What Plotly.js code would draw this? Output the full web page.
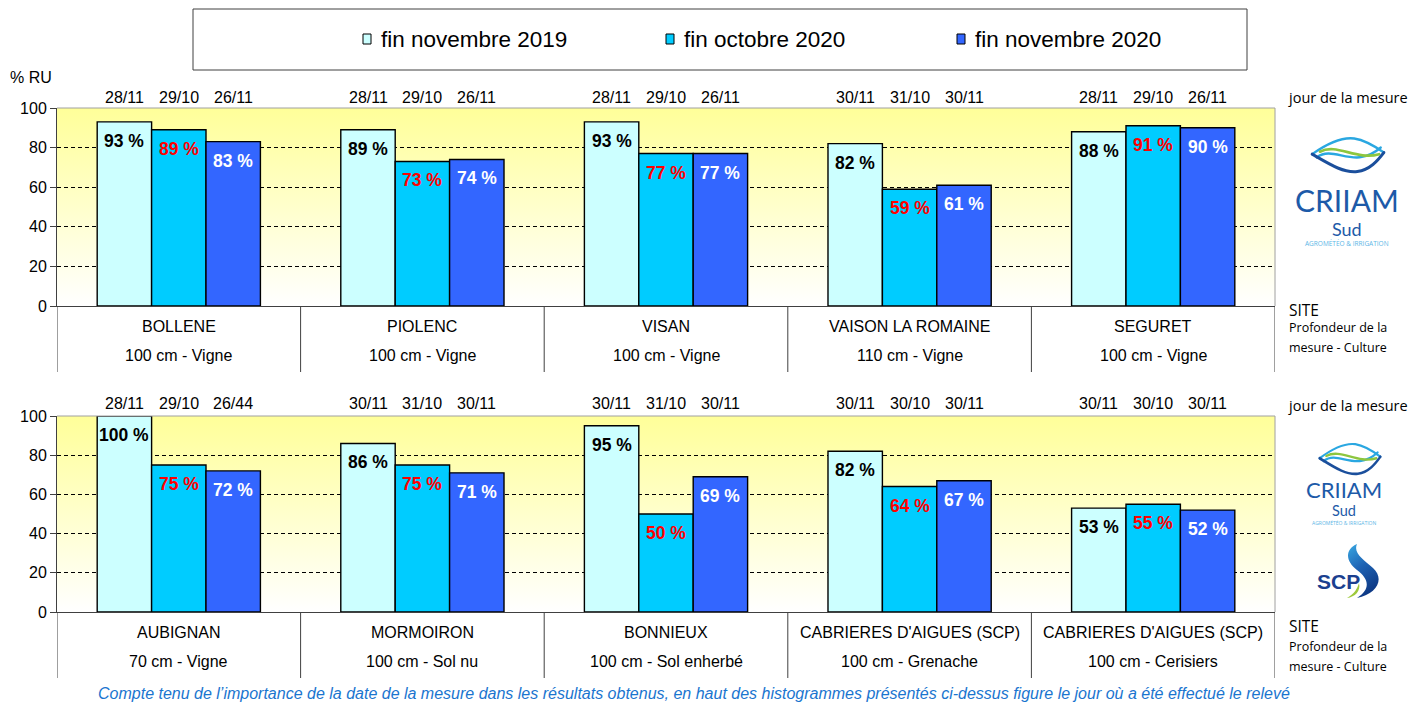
<!DOCTYPE html>
<html>
<head>
<meta charset="utf-8">
<script src="https://cdn.plot.ly/plotly-3.0.1.min.js"></script>
<style>html,body{margin:0;padding:0;background:#fff;}#chart{width:1413px;height:704px;}</style>
</head>
<body>
<div id="chart"></div>
<script>
// ---------- DATA ----------
const seriesNames = ['fin novembre 2019', 'fin octobre 2020', 'fin novembre 2020'];

const topSites  = ['BOLLENE', 'PIOLENC', 'VISAN', 'VAISON LA ROMAINE', 'SEGURET'];
const topDepths = ['100 cm - Vigne', '100 cm - Vigne', '100 cm - Vigne', '110 cm - Vigne', '100 cm - Vigne'];
const topNov2019 = [93, 89, 93, 82, 88];
const topOct2020 = [89, 73, 77, 59, 91];
const topNov2020 = [83, 74, 77, 61, 90];
const topDatesNov2019 = ['28/11', '28/11', '28/11', '30/11', '28/11'];
const topDatesOct2020 = ['29/10', '29/10', '29/10', '31/10', '29/10'];
const topDatesNov2020 = ['26/11', '26/11', '26/11', '30/11', '26/11'];

const botSites  = ['AUBIGNAN', 'MORMOIRON', 'BONNIEUX', "CABRIERES D'AIGUES (SCP)", "CABRIERES D'AIGUES (SCP)"];
const botDepths = ['70 cm - Vigne', '100 cm - Sol nu', '100 cm - Sol enherbé', '100 cm - Grenache', '100 cm - Cerisiers'];
const botNov2019 = [100, 86, 95, 82, 53];
const botOct2020 = [75, 75, 50, 64, 55];
const botNov2020 = [72, 71, 69, 67, 52];
const botDatesNov2019 = ['28/11', '30/11', '30/11', '30/11', '30/11'];
const botDatesOct2020 = ['29/10', '31/10', '31/10', '30/10', '30/10'];
const botDatesNov2020 = ['26/44', '30/11', '30/11', '30/11', '30/11'];

const yTicks = [0, 20, 40, 60, 80, 100];

// ---------- STYLE ----------
const W = 1413, H = 704;
const px = x => x / W;
const py = y => 1 - y / H;
const barColors = ['#CCFFFF', '#00CCFF', '#3366FF'];
const labelColors = ['#000000', '#FF0000', '#FFFFFF'];
const FONT = 'Liberation Sans, Arial, sans-serif';
const CAL = 'Open Sans, Noto Sans, sans-serif';
const LOGO = 'Lato, Open Sans, sans-serif';
const BARGAP = 0.33;
const barW = (1 - BARGAP) / 3;
const offs = [-barW, 0, barW];

const panels = [
  {xa: 'x', ya: 'y', sites: topSites, depths: topDepths,
   vals: [topNov2019, topOct2020, topNov2020],
   dates: [topDatesNov2019, topDatesOct2020, topDatesNov2020],
   top: 108, bottom: 306, dateShift: 11, sideY: [310, 328, 347]},
  {xa: 'x2', ya: 'y2', sites: botSites, depths: botDepths,
   vals: [botNov2019, botOct2020, botNov2020],
   dates: [botDatesNov2019, botDatesOct2020, botDatesNov2020],
   top: 416, bottom: 612, dateShift: 13, sideY: [626, 646, 666]}
];

const data = [];
const annotations = [];
const shapes = [];
const images = [];

const xLeft = 57, xRight = 1275;

panels.forEach(p => {
  p.vals.forEach((vals, s) => {
    data.push({
      type: 'bar', name: seriesNames[s],
      x: vals.map((v, i) => i), y: vals,
      xaxis: p.xa, yaxis: p.ya,
      marker: {color: barColors[s], line: {color: '#000', width: 1.4}},
      showlegend: false, hoverinfo: 'skip'
    });
    vals.forEach((v, i) => {
      annotations.push({
        xref: p.xa, yref: p.ya, x: i + offs[s], y: v, yshift: -19,
        text: v + ' %', showarrow: false, yanchor: 'middle',
        font: {family: FONT, size: 17.5, color: labelColors[s], weight: 'bold'}
      });
      annotations.push({
        xref: p.xa, yref: p.ya, x: i + offs[s], y: 100, yshift: p.dateShift,
        text: p.dates[s][i], showarrow: false, yanchor: 'middle',
        font: {family: FONT, size: 16, color: '#000'}
      });
    });
  });
  p.sites.forEach((name, i) => {
    annotations.push({xref: p.xa, yref: p.ya, x: i, y: 0, yshift: -20, text: name,
      showarrow: false, yanchor: 'middle', font: {family: FONT, size: 16, color: '#000'}});
    annotations.push({xref: p.xa, yref: p.ya, x: i, y: 0, yshift: -49, text: p.depths[i],
      showarrow: false, yanchor: 'middle', font: {family: FONT, size: 16, color: '#000'}});
  });
  for (let k = 0; k <= p.sites.length; k++) {
    shapes.push({type: 'line', xref: p.xa, yref: 'paper', x0: k - 0.5, x1: k - 0.5,
      y0: py(p.bottom), y1: py(p.bottom + 66), line: {color: '#404040', width: 1}});
  }
  // plot area border top/right
  shapes.push({type: 'line', xref: 'paper', yref: 'paper', x0: px(xLeft), x1: px(xRight),
    y0: py(p.top), y1: py(p.top), line: {color: '#A0A0A0', width: 1}, layer: 'above'});
  shapes.push({type: 'line', xref: 'paper', yref: 'paper', x0: px(xRight), x1: px(xRight),
    y0: py(p.top), y1: py(p.bottom), line: {color: '#A0A0A0', width: 1}, layer: 'above'});
  // gradient background
  const grad = '<svg xmlns="http://www.w3.org/2000/svg" width="100" height="100" preserveAspectRatio="none" viewBox="0 0 100 100"><defs><linearGradient id="g" x1="0" y1="0" x2="0" y2="1"><stop offset="0" stop-color="#FFFF99"/><stop offset="1" stop-color="#FFFFFF"/></linearGradient></defs><rect width="100" height="100" fill="url(#g)"/></svg>';
  images.push({source: 'data:image/svg+xml;charset=utf-8,' + encodeURIComponent(grad),
    xref: 'paper', yref: 'paper', x: px(xLeft), y: py(p.top),
    sizex: px(xRight) - px(xLeft), sizey: (p.bottom - p.top) / H,
    sizing: 'stretch', xanchor: 'left', yanchor: 'top', layer: 'below'});
  // right side labels
  annotations.push({xref: 'paper', yref: 'paper', x: px(1348), y: py(p.top - 11),
    text: 'jour de la mesure', showarrow: false, xanchor: 'center', yanchor: 'middle',
    font: {family: CAL, size: 14.5, color: '#000'}});
  annotations.push({xref: 'paper', yref: 'paper', x: px(1287), y: py(p.sideY[0]),
    text: 'SITE', showarrow: false, xanchor: 'left', yanchor: 'middle',
    font: {family: CAL, size: 15.5, color: '#000'}});
  annotations.push({xref: 'paper', yref: 'paper', x: px(1287), y: py(p.sideY[1]),
    text: 'Profondeur de la', showarrow: false, xanchor: 'left', yanchor: 'middle',
    font: {family: CAL, size: 12.5, color: '#000'}});
  annotations.push({xref: 'paper', yref: 'paper', x: px(1287), y: py(p.sideY[2]),
    text: 'mesure - Culture', showarrow: false, xanchor: 'left', yanchor: 'middle',
    font: {family: CAL, size: 12.5, color: '#000'}});
});

// "% RU"
annotations.push({xref: 'paper', yref: 'paper', x: px(31), y: py(77), text: '% RU',
  showarrow: false, xanchor: 'center', yanchor: 'middle', font: {family: FONT, size: 16, color: '#000'}});

// legend (manual)
shapes.push({type: 'rect', xref: 'paper', yref: 'paper', x0: px(193), x1: px(1247), y0: py(70), y1: py(9),
  line: {color: '#404040', width: 1}, fillcolor: '#FFFFFF'});
const legX = [363, 666, 957];
seriesNames.forEach((n, s) => {
  shapes.push({type: 'rect', xref: 'paper', yref: 'paper', x0: px(legX[s]), x1: px(legX[s] + 8),
    y0: py(44), y1: py(34), fillcolor: barColors[s], line: {color: '#000', width: 1}});
  annotations.push({xref: 'paper', yref: 'paper', x: px(legX[s] + 16), y: py(39), text: n,
    showarrow: false, xanchor: 'left', yanchor: 'middle', font: {family: FONT, size: 22.5, color: '#000'}});
});

// footnote
annotations.push({xref: 'paper', yref: 'paper', x: px(694), y: py(693),
  text: 'Compte tenu de l’importance de la date de la mesure dans les résultats obtenus, en haut des histogrammes présentés ci-dessus figure le jour où a été effectué le relevé',
  showarrow: false, xanchor: 'center', yanchor: 'middle',
  font: {family: FONT, size: 16, color: '#1A75CF', style: 'italic'}});

// logos
const waves = '<svg xmlns="http://www.w3.org/2000/svg" viewBox="0 0 100 46" preserveAspectRatio="none">' +
  '<g fill="none" stroke-linecap="round">' +
  '<path d="M4,22 C25,8 42,1 58,3 C72,5 84,12 96,20" stroke="#2AA7E1" stroke-width="3"/>' +
  '<path d="M10,26 C32,10 58,42 92,14" stroke="#2AA7E1" stroke-width="3"/>' +
  '<path d="M14,19 C36,8 60,30 90,22" stroke="#8DC63F" stroke-width="3.2"/>' +
  '<path d="M4,22 C26,34 44,45 62,43 C78,41 88,30 96,20" stroke="#1B4F9C" stroke-width="3.6"/>' +
  '</g></svg>';
const wavesSrc = 'data:image/svg+xml;charset=utf-8,' + encodeURIComponent(waves);
images.push({source: wavesSrc, xref: 'paper', yref: 'paper', x: px(1309), y: py(136),
  sizex: 78 / W, sizey: 38 / H, sizing: 'stretch', xanchor: 'left', yanchor: 'top', layer: 'above'});
images.push({source: wavesSrc, xref: 'paper', yref: 'paper', x: px(1317), y: py(442),
  sizex: 66 / W, sizey: 34 / H, sizing: 'stretch', xanchor: 'left', yanchor: 'top', layer: 'above'});

const scp = '<svg xmlns="http://www.w3.org/2000/svg" viewBox="0 0 45 56" preserveAspectRatio="none">' +
  '<defs><linearGradient id="s" x1="0" y1="0" x2="0.4" y2="1"><stop offset="0" stop-color="#39A9E3"/><stop offset="0.5" stop-color="#1E63B4"/><stop offset="1" stop-color="#0E3A86"/></linearGradient></defs>' +
  '<path d="M20,1 C8,6 8,18 20,27 C32,36 34,46 20,55 C40,51 48,36 36,25 C26,16 16,10 20,1 Z" fill="url(#s)"/>' +
  '<path d="M22,40 C24,48 18,54 10,55 C18,50 20,46 22,40 Z" fill="#9DC93B"/>' +
  '</svg>';
images.push({source: 'data:image/svg+xml;charset=utf-8,' + encodeURIComponent(scp), xref: 'paper', yref: 'paper',
  x: px(1337), y: py(543), sizex: 45 / W, sizey: 56 / H, sizing: 'stretch', xanchor: 'left', yanchor: 'top', layer: 'above'});

const logoBlue = '#1D5AA8';
// [x, yCRIIAM, sizeCRIIAM, ySud, sizeSud, ySmall, sizeSmall]
[[1347, 200, 30, 229, 18, 243, 6.5], [1344, 489, 22, 510, 14.5, 523, 5]].forEach(l => {
  annotations.push({xref: 'paper', yref: 'paper', x: px(l[0]), y: py(l[1]), text: 'CRIIAM', showarrow: false,
    xanchor: 'center', yanchor: 'middle', font: {family: LOGO, size: l[2], color: logoBlue}});
  annotations.push({xref: 'paper', yref: 'paper', x: px(l[0]), y: py(l[3]), text: 'Sud', showarrow: false,
    xanchor: 'center', yanchor: 'middle', font: {family: LOGO, size: l[4], color: logoBlue}});
  annotations.push({xref: 'paper', yref: 'paper', x: px(l[0]), y: py(l[5]), text: 'AGROMÉTÉO & IRRIGATION', showarrow: false,
    xanchor: 'center', yanchor: 'middle', font: {family: CAL, size: l[6], color: '#5DB6E6'}});
});
annotations.push({xref: 'paper', yref: 'paper', x: px(1338), y: py(581), text: 'SCP', showarrow: false,
  xanchor: 'center', yanchor: 'middle', font: {family: FONT, size: 21, color: '#1B3F8F', weight: 'bold'}});

// ---------- AXES ----------
function xAxis(anchor) {
  return {domain: [px(xLeft), px(xRight)], range: [-0.5, 4.5], anchor: anchor,
    showticklabels: false, ticks: '', showgrid: false, zeroline: false,
    showline: true, linecolor: '#404040', linewidth: 1, fixedrange: true};
}
function yAxis(p, anchor) {
  return {domain: [py(p.bottom), py(p.top)], range: [0, 100], anchor: anchor,
    tickvals: yTicks, ticktext: yTicks.map(String), ticks: 'outside', ticklen: 6, tickcolor: '#404040',
    showline: true, linecolor: '#404040', linewidth: 1,
    showgrid: true, gridcolor: '#000000', gridwidth: 1, griddash: '4px,3px',
    zeroline: false, tickfont: {family: FONT, size: 16, color: '#000'}, fixedrange: true};
}

const layout = {
  width: W, height: H,
  margin: {l: 0, r: 0, t: 0, b: 0},
  paper_bgcolor: '#FFFFFF', plot_bgcolor: 'rgba(0,0,0,0)',
  barmode: 'group', bargap: BARGAP, bargroupgap: 0,
  showlegend: false,
  xaxis: xAxis('y'), yaxis: yAxis(panels[0], 'x'),
  xaxis2: xAxis('y2'), yaxis2: yAxis(panels[1], 'x2'),
  annotations: annotations, shapes: shapes, images: images,
  font: {family: FONT}
};

Plotly.newPlot('chart', data, layout, {displayModeBar: false, staticPlot: true});
</script>
</body>
</html>
